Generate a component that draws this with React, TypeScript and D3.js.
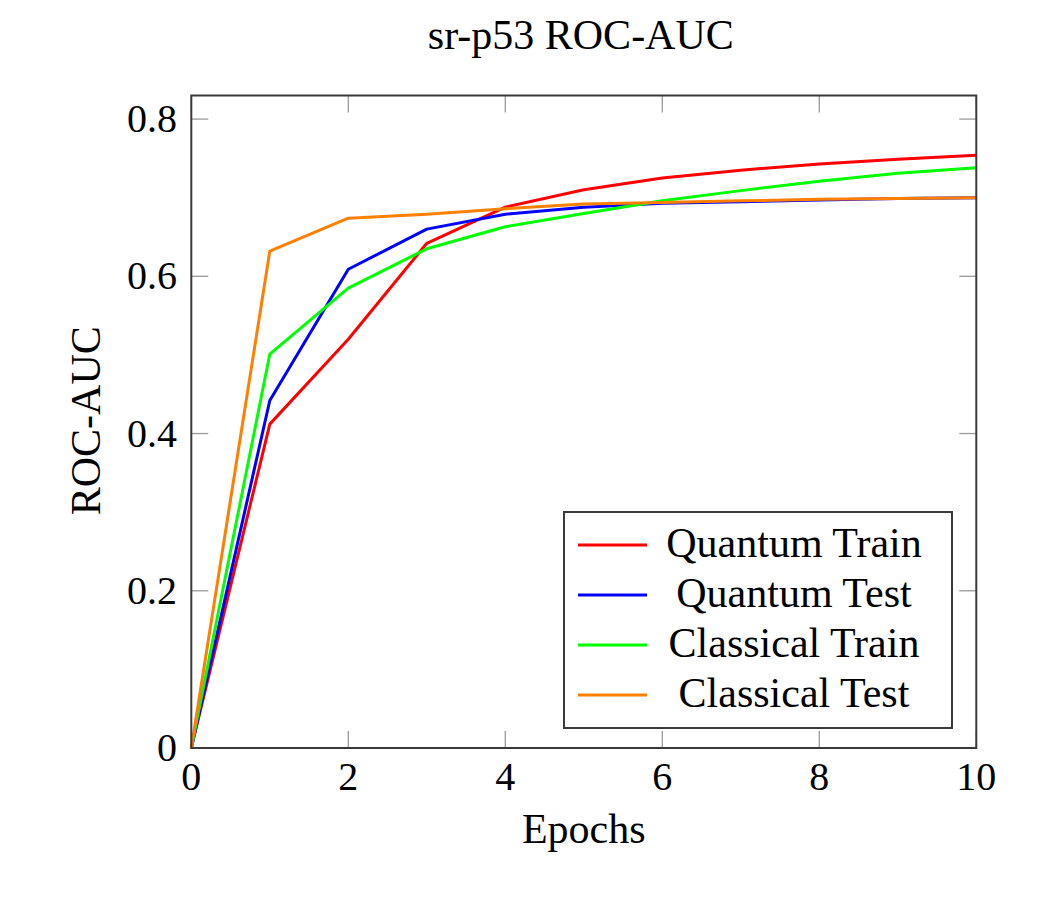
import { useMemo } from 'react'
import * as d3 from 'd3'

const W = 1063
const H = 917
const FONT = "'Liberation Serif', 'Times New Roman', serif"

const epochs = [0, 1, 2, 3, 4, 5, 6, 7, 8, 9, 10]
const quantumTrain = [0, 0.412, 0.52, 0.642, 0.688, 0.71, 0.725, 0.735, 0.743, 0.749, 0.754]
const quantumTest = [0, 0.442, 0.609, 0.66, 0.679, 0.688, 0.693, 0.695, 0.697, 0.699, 0.7]
const classicalTrain = [0, 0.501, 0.585, 0.635, 0.663, 0.68, 0.696, 0.709, 0.721, 0.731, 0.738]
const classicalTest = [0, 0.632, 0.674, 0.679, 0.686, 0.692, 0.694, 0.696, 0.698, 0.699, 0.7]

const xTicks = [0, 2, 4, 6, 8, 10]
const yTicks = [0, 0.2, 0.4, 0.6, 0.8]

const SERIES = [
  { name: 'Quantum Train', values: quantumTrain, color: '#ff0000' },
  { name: 'Quantum Test', values: quantumTest, color: '#0000ff' },
  { name: 'Classical Train', values: classicalTrain, color: '#00ff00' },
  { name: 'Classical Test', values: classicalTest, color: '#ff8000' },
]

const PLOT = { left: 191.3, right: 976.3, top: 95.5, bottom: 748 }
const TICK_LEN = 17
const FRAME = '#3a3a3a'
const TICK_COLOR = '#9a9a9a'

export default function App() {
  const x = useMemo(() => d3.scaleLinear().domain([0, 10]).range([PLOT.left, PLOT.right]), [])
  const y = useMemo(() => d3.scaleLinear().domain([0, 0.83]).range([PLOT.bottom, PLOT.top]), [])

  const line = d3
    .line<number>()
    .x((_, i) => x(epochs[i]))
    .y((d) => y(d))

  const legend = { x: 564, y: 512, w: 388, h: 216, row: 50 }
  const midX = (PLOT.left + PLOT.right) / 2

  return (
    <svg
      width={W}
      height={H}
      style={{ position: 'fixed', left: 0, top: 0, background: '#fff' }}
      fontFamily={FONT}
    >
      <rect width={W} height={H} fill="#fff" />

      {/* title */}
      <text x={midX - 3} y={49} textAnchor="middle" fontSize={42} fill="#000">
        sr-p53 ROC-AUC
      </text>

      {/* ticks (inward, on all four sides) */}
      {xTicks.map((t) => (
        <g key={'x' + t}>
          <line x1={x(t)} x2={x(t)} y1={PLOT.bottom} y2={PLOT.bottom - TICK_LEN} stroke={TICK_COLOR} strokeWidth={1.3} />
          <line x1={x(t)} x2={x(t)} y1={PLOT.top} y2={PLOT.top + TICK_LEN} stroke={TICK_COLOR} strokeWidth={1.3} />
          <text x={x(t)} y={790} textAnchor="middle" fontSize={40} fill="#000">
            {t}
          </text>
        </g>
      ))}
      {yTicks.map((t) => (
        <g key={'y' + t}>
          <line x1={PLOT.left} x2={PLOT.left + TICK_LEN} y1={y(t)} y2={y(t)} stroke={TICK_COLOR} strokeWidth={1.3} />
          <line x1={PLOT.right} x2={PLOT.right - TICK_LEN} y1={y(t)} y2={y(t)} stroke={TICK_COLOR} strokeWidth={1.3} />
          <text x={177} y={y(t) + 13} textAnchor="end" fontSize={40} fill="#000">
            {t === 0 ? '0' : d3.format('.1f')(t)}
          </text>
        </g>
      ))}

      {/* series */}
      {SERIES.map((s) => (
        <path key={s.name} d={line(s.values) ?? ''} fill="none" stroke={s.color} strokeWidth={3} strokeLinejoin="round" />
      ))}

      {/* frame */}
      <rect
        x={PLOT.left}
        y={PLOT.top}
        width={PLOT.right - PLOT.left}
        height={PLOT.bottom - PLOT.top}
        fill="none"
        stroke={FRAME}
        strokeWidth={2}
      />

      {/* axis labels */}
      <text x={midX} y={843} textAnchor="middle" fontSize={42} fill="#000">
        Epochs
      </text>
      <text
        transform={`translate(100,${(PLOT.top + PLOT.bottom) / 2 - 1}) rotate(-90)`}
        textAnchor="middle"
        fontSize={42}
        fill="#000"
      >
        ROC-AUC
      </text>

      {/* legend */}
      <rect x={legend.x} y={legend.y} width={legend.w} height={legend.h} fill="#fff" stroke={FRAME} strokeWidth={2} />
      {SERIES.map((s, i) => {
        const cy = legend.y + 33 + i * legend.row
        return (
          <g key={'lg' + s.name}>
            <line x1={legend.x + 14} x2={legend.x + 83} y1={cy} y2={cy} stroke={s.color} strokeWidth={3} />
            <text x={794} y={cy + 12} textAnchor="middle" fontSize={42} fill="#000">
              {s.name}
            </text>
          </g>
        )
      })}
    </svg>
  )
}
